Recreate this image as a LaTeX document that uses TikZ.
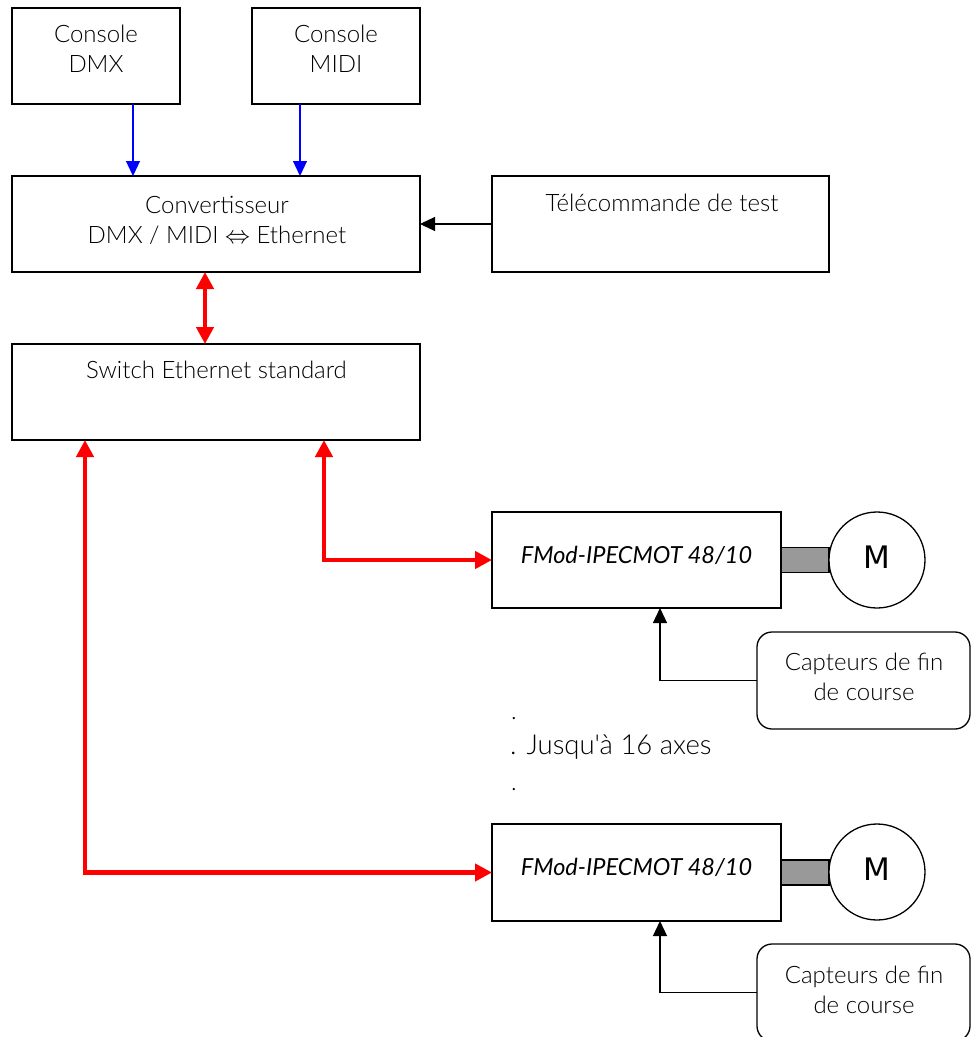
\documentclass[tikz,border=0pt]{standalone}
\usepackage{fontspec}
\setmainfont{Lato Light}[ItalicFont={Lato Italic}]
\newfontfamily\mfont{DejaVu Sans}
\newfontfamily\jfont{Lato Light}[Ligatures=TeXOff]
\usetikzlibrary{arrows.meta}
\definecolor{myred}{RGB}{255,0,0}
\definecolor{myblue}{RGB}{0,0,255}
\definecolor{bargray}{RGB}{153,153,153}
\begin{document}
\begin{tikzpicture}[x=1pt,y=-1pt,
  box/.style={draw, line width=1.3pt, inner sep=0pt, outer sep=0pt, rectangle},
  rbox/.style={box, rounded corners=15pt},
  txt/.style={font=\fontsize{24}{30}\selectfont, align=center, inner sep=0pt},
  ftxt/.style={font=\fontsize{23.5}{28}\selectfont\itshape, inner sep=0pt},
  mtxt/.style={font=\mfont\fontsize{31}{36}\selectfont, inner sep=0pt},
  redline/.style={draw=myred, line width=4.3pt, {Triangle[length=17pt,width=17pt]}-{Triangle[length=17pt,width=17pt]}},
  blueline/.style={draw=myblue, line width=1.3pt, -{Triangle[length=15pt,width=14pt]}},
  blackline/.style={draw=black, line width=1.3pt, -{Triangle[length=15pt,width=14pt]}},
  motor/.style={draw, circle, line width=1.3pt, minimum size=96pt, inner sep=0pt, outer sep=0pt},
  bar/.style={draw, line width=1.3pt, fill=bargray, minimum height=25pt, inner sep=0pt, outer sep=0pt}
]
\useasboundingbox (0,0) rectangle (971,1037);

% boxes
\node[box, minimum width=168pt, minimum height=96pt] (dmx) at (96,56) {};
\node[box, minimum width=168pt, minimum height=96pt] (midi) at (336,56) {};
\node[box, minimum width=408pt, minimum height=96pt] (conv) at (216,224) {};
\node[box, minimum width=337pt, minimum height=96pt] (tele) at (660.5,224) {};
\node[box, minimum width=408pt, minimum height=96pt] (sw) at (216,392) {};
\node[box, minimum width=289pt, minimum height=96pt] (fm1) at (636.5,560) {};
\node[box, minimum width=289pt, minimum height=97pt] (fm2) at (636.5,872.5) {};
\node[rbox, minimum width=213pt, minimum height=97pt] (cap1) at (863.5,680.5) {};
\node[rbox, minimum width=213pt, minimum height=97pt] (cap2) at (863.5,992.5) {};

% motor bars and motors
\path (fm1.east) -- ++(48,0) node[bar, midway, minimum width=48pt] (bar1) {};
\path (fm2.east) -- ++(48,0) node[bar, midway, minimum width=48pt] (bar2) {};
\node[motor, fill=white] (m1) at (877,560) {};
\node[motor, fill=white] (m2) at (877,872) {};

% texts
\node[txt] (dmxt) at (96,49) {Console\\DMX};
\node[txt] (midit) at (336,49) {Console\\MIDI};
\node[txt] (convt) at (217,220.5) {Convertisseur\\DMX / MIDI {\fontsize{27}{30}\selectfont$\Leftrightarrow$} Ethernet};
\node[txt] (telet) at (662,203) {Télécommande de test};
\node[txt] (swt) at (216.5,370) {Switch Ethernet standard};
\node[ftxt] (fm1t) at (636.5,555) {FMod-IPECMOT 48/10};
\node[ftxt] (fm2t) at (636.5,867) {FMod-IPECMOT 48/10};
\node[txt] (cap1t) at (864,677) {Capteurs de fin\\de course};
\node[txt] (cap2t) at (864,989.5) {Capteurs de fin\\de course};
\node[mtxt] (m1t) at (877,557) {M};
\node[mtxt] (m2t) at (877,869) {M};
\node[txt, anchor=base west] (dot1) at (511,719) {.};
\node[txt, anchor=base west, font=\fontsize{27.5}{30}\selectfont\jfont] (dot2) at (510,754) {. Jusqu'à 16 axes};
\node[txt, anchor=base west] (dot3) at (511,790) {.};

% connectors
\draw[blueline] ([xshift=-83pt]conv.north |- dmx.south) -- ([xshift=-83pt]conv.north);
\draw[blueline] ([xshift=84pt]conv.north |- midi.south) -- ([xshift=84pt]conv.north);
\draw[blackline] (tele.west) -- (conv.east);
\draw[redline] ([xshift=-11pt]conv.south) -- ([xshift=-11pt]sw.north);
\draw[redline] ([xshift=108pt]sw.south) |- (fm1.west);
\draw[redline] ([xshift=-131pt]sw.south) |- (fm2.west);
\draw[blackline] (cap1.west) -| ([xshift=23.5pt]fm1.south);
\draw[blackline] (cap2.west) -| ([xshift=23.5pt]fm2.south);
\end{tikzpicture}
\end{document}
